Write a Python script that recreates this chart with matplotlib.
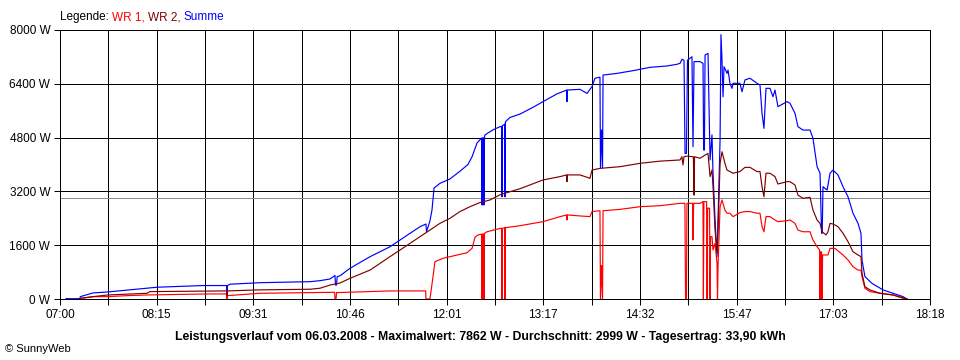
import matplotlib
matplotlib.use("Agg")
import matplotlib.pyplot as plt
from matplotlib.offsetbox import TextArea, HPacker, AnchoredOffsetbox

plt.rcParams['font.family'] = ['Liberation Sans', 'DejaVu Sans']

# Zeit in Minuten seit Mitternacht, Leistung in W
wr1_t = [437.1, 445.7, 457.4, 472.2, 487.8, 534.6, 549.8, 550.1, 550.5, 575.9, 634.0, 634.3, 635.1, 635.5,
         677.2, 705.0, 705.2, 708.3, 710.7, 712.2, 718.5, 726.3, 737.2, 741.1, 743.4, 745.7, 748.6, 748.9,
         749.3, 750.1, 750.4, 750.8, 752.8, 762.9, 764.2, 764.4, 764.7, 766.5, 766.8, 767.1, 778.5, 796.4,
         809.7, 814.9, 815.1, 815.4, 825.2, 833.0, 834.6, 840.8, 841.2, 842.0, 842.8, 843.2, 856.4, 872.0,
         887.6, 903.2, 907.0, 907.5, 908.2, 908.6, 913.0, 913.3, 913.8, 918.8, 921.1, 921.4, 921.8, 923.9,
         924.3, 924.7, 926.2, 926.6, 927.0, 928.1, 928.9, 930.5, 932.0, 932.4, 932.8, 934.4, 935.9, 938.2,
         939.8, 942.1, 944.5, 949.9, 953.8, 957.7, 963.2, 965.5, 967.1, 968.6, 970.2, 973.3, 977.2, 979.5,
         986.6, 988.9, 992.8, 995.1, 999.0, 1004.5, 1006.8, 1010.0, 1012.0, 1012.3, 1012.7, 1013.5, 1013.9,
         1014.3, 1018.5, 1020.1, 1024.0, 1030.2, 1034.1, 1038.0, 1041.9, 1044.2, 1045.0, 1047.3, 1051.2,
         1059.0, 1069.2, 1077.0, 1080.1]
wr1_w = [20, 70, 70, 100, 120, 150, 150, 0, 100, 170, 200, 0, 0, 190,
         240, 240, 0, 0, 665, 1110, 1210, 1280, 1375, 1505, 1835, 1905, 1930, 0,
         1930, 1930, 0, 1950, 2000, 2100, 2100, 0, 2100, 2120, 0, 2120, 2180, 2300,
         2450, 2500, 2350, 2500, 2470, 2450, 2600, 2625, 0, 1000, 0, 2625, 2665, 2745,
         2775, 2845, 2845, 0, 0, 2845, 2845, 1755, 2845, 2845, 2895, 0, 2895, 2895,
         0, 2700, 2700, 0, 1855, 1855, 1460, 1655, 1060, 0, 960, 2745, 2945, 2645,
         2550, 2550, 2450, 2570, 2600, 2600, 2550, 2550, 2150, 2000, 2450, 2450, 2350, 2300,
         2330, 2350, 2250, 2050, 2000, 2000, 1755, 1555, 1457, 0, 1400, 1400, 0,
         1310, 1310, 1505, 1505, 1310, 1160, 960, 860, 860, 665, 320, 220,
         170, 120, 20, 0]

wr2_t = [435.6, 445.7, 457.4, 487.8, 490.1, 549.8, 550.1, 550.5, 573.5, 614.8, 622.6, 630.4, 638.2, 646.0,
         661.6, 677.2, 685.0, 692.8, 700.6, 708.3, 716.1, 723.9, 731.7, 739.5, 747.3, 755.1, 762.9, 770.7,
         778.5, 796.4, 809.7, 814.9, 815.1, 815.4, 825.2, 833.0, 834.6, 840.8, 856.4, 872.0, 887.6, 903.2,
         904.7, 905.5, 906.3, 908.6, 913.6, 914.1, 914.5, 918.8, 922.7, 925.0, 926.6, 928.1, 928.9, 930.5,
         932.0, 932.8, 934.4, 935.9, 938.2, 939.8, 942.1, 944.5, 949.9, 953.8, 957.7, 963.2, 965.5, 967.1,
         968.6, 970.2, 973.3, 977.2, 979.5, 986.6, 988.9, 992.8, 995.1, 999.0, 1004.5, 1006.8, 1010.0,
         1012.3, 1013.9, 1017.0, 1018.5, 1020.1, 1022.4, 1026.3, 1030.2, 1034.1, 1038.0, 1041.9, 1044.2,
         1045.0, 1047.3, 1051.2, 1059.0, 1069.2, 1078.5, 1080.1]
wr2_w = [20, 70, 120, 170, 220, 240, 100, 240, 270, 290, 320, 415, 475, 615,
         860, 1260, 1457, 1655, 1855, 2050, 2250, 2400, 2600, 2745, 2870, 2945, 3100, 3190,
         3280, 3540, 3640, 3690, 3490, 3690, 3690, 3590, 3835, 3885, 3935, 4035, 4100, 4135,
         4230, 3985, 4230, 4250, 4230, 3090, 4230, 4185, 4280, 4330, 3640, 3835, 3340, 2050,
         1360, 2050, 4035, 4380, 4035, 3835, 3790, 3740, 3790, 3915, 3915, 3790, 3790, 3340,
         3040, 3740, 3740, 3640, 3420, 3490, 3490, 3390, 3090, 2995, 3025, 2645, 2350,
         2250, 2000, 1905, 2000, 2250, 2230, 2150, 1955, 1705, 1405, 1310, 1260,
         765, 365, 270, 170, 120, 20, 0]

summe_t = [424.7, 435.6, 435.8, 445.7, 457.4, 468.3, 490.1, 495.6, 531.4, 549.8, 550.1, 550.5, 552.5, 575.9,
           614.8, 622.6, 630.4, 634.3, 634.7, 635.5, 636.0, 638.2, 646.0, 661.6, 677.2, 685.0, 692.8, 700.6,
           705.2, 705.6, 708.3, 709.9, 711.5, 716.1, 723.9, 731.7, 737.9, 741.1, 745.0, 748.6, 748.9, 749.3,
           750.1, 750.4, 750.8, 751.2, 757.4, 762.9, 764.2, 764.4, 764.7, 766.5, 766.8, 767.1, 770.7, 778.5,
           788.6, 796.4, 807.3, 814.9, 815.1, 815.4, 825.2, 830.7, 834.6, 836.9, 840.8, 841.2, 842.0, 842.8,
           843.2, 854.1, 866.5, 879.8, 893.0, 900.8, 903.2, 904.7, 906.3, 907.1, 908.2, 909.0, 911.0, 912.5,
           913.3, 914.1, 918.8, 921.1, 921.6, 922.2, 922.7, 925.0, 926.6, 928.1, 928.9, 930.5, 932.0, 932.8,
           934.4, 935.1, 935.9, 936.7, 937.5, 939.8, 940.6, 942.1, 943.7, 944.5, 949.9, 951.5, 953.8, 957.7,
           963.2, 965.5, 967.1, 968.6, 970.2, 973.3, 975.6, 977.2, 979.5, 986.6, 988.9, 992.8, 995.1, 999.0,
           1004.5, 1006.8, 1010.0, 1012.3, 1013.5, 1014.0, 1014.6, 1017.8, 1020.1, 1022.4, 1026.3, 1030.2,
           1034.1, 1038.0, 1041.9, 1044.2, 1045.0, 1047.3, 1052.8, 1061.4, 1069.2, 1077.0, 1080.1]
summe_w = [10, 10, 70, 180, 210, 250, 330, 350, 400, 400, 220, 400, 440, 485,
           515, 545, 595, 700, 415, 415, 665, 690, 913, 1258, 1555, 1755, 1954, 2150,
           2230, 2000, 2320, 2647, 3300, 3440, 3570, 3800, 4000, 4230, 4640, 4790, 2795, 4790,
           4790, 2795, 4820, 4880, 5030, 5125, 5125, 3040, 5150, 5200, 3040, 5270, 5400, 5500,
           5700, 5870, 6100, 6215, 5870, 6215, 6235, 6115, 6315, 6565, 6595, 3900, 5025, 3900,
           6660, 6710, 6790, 6890, 6930, 6980, 7010, 7130, 7100, 4330, 4330, 7100, 7160, 7205,
           4530, 7060, 7060, 7010, 4430, 4430, 7255, 7305, 4135, 4880, 3740, 2350, 1260, 2350,
           4730, 7862, 7110, 6015, 6910, 6710, 6810, 6415, 6265, 6415, 6415, 6165, 6515, 6565,
           6415, 6365, 5520, 5075, 6265, 6265, 6015, 6215, 5720, 5870, 5820, 5520, 5125, 5025,
           5025, 4780, 3935, 3740, 1955, 1955, 3340, 3240, 3740, 3835, 3690, 3340,
           3040, 2550, 2250, 1955, 1160, 665, 465, 270, 170, 70, 0]

durchschnitt = 2999
x_labels = ['07:00', '08:15', '09:31', '10:46', '12:01', '13:17', '14:32', '15:47', '17:03', '18:18']
y_ticks = [0, 1600, 3200, 4800, 6400, 8000]
t_start, t_end = 420, 1098

px = 0.72  # eine Pixelbreite in pt bei 100 dpi

fig = plt.figure(figsize=(9.6, 3.6), dpi=100)
ax = fig.add_axes([60 / 960, 61 / 360, 870 / 960, 269 / 360])

grid_x = [t_start + i * (t_end - t_start) / 18 for i in range(19)]
for gx in grid_x:
    ax.axvline(gx, color='black', lw=px, zorder=1, antialiased=False)
for gy in y_ticks:
    ax.axhline(gy, color='black', lw=px, zorder=1, antialiased=False)
ax.axhline(durchschnitt, color='#8c8c8c', lw=px, zorder=1, antialiased=False)

ax.plot(wr1_t, wr1_w, color='#ff0000', lw=0.85, zorder=3)
ax.plot(wr2_t, wr2_w, color='#800000', lw=0.85, zorder=3)
ax.plot(summe_t, summe_w, color='#0000ff', lw=0.85, zorder=2)

ax.set_xlim(t_start, t_end)
ax.set_ylim(0, 8000)
ax.set_xticks(grid_x[::2])
ax.set_xticklabels(x_labels)
ax.set_xticks(grid_x[1::2], minor=True)
ax.set_yticks(y_ticks)
ax.set_yticklabels([f'{v} W' for v in y_ticks])
ax.tick_params(axis='both', which='both', direction='out', length=4, width=px,
               labelsize=8.5, colors='black', pad=3)
for s in ax.spines.values():
    s.set_linewidth(px)
    s.set_color('black')

# Legende oben links
parts = [TextArea('Legende: ', textprops=dict(color='black', size=8.5)),
         TextArea('WR 1, ', textprops=dict(color='#ff0000', size=8.5)),
         TextArea('WR 2, ', textprops=dict(color='#800000', size=8.5)),
         TextArea('Summe', textprops=dict(color='#0000ff', size=8.5))]
box = HPacker(children=parts, align='baseline', pad=0, sep=0)
anch = AnchoredOffsetbox(loc='lower left', child=box, pad=0, frameon=False,
                         bbox_to_anchor=(60 / 960, 337 / 360), bbox_transform=fig.transFigure,
                         borderpad=0)
fig.add_artist(anch)

fig.text(0.5, 23 / 360, 'Leistungsverlauf vom 06.03.2008 - Maximalwert: 7862 W - '
         'Durchschnitt: 2999 W - Tagesertrag: 33,90 kWh',
         ha='center', va='center', fontsize=8.8, fontweight='bold')
fig.text(5 / 960, 11 / 360, '© SunnyWeb', ha='left', va='center', fontsize=8)

fig.savefig('out.png', dpi=100, facecolor='white')
